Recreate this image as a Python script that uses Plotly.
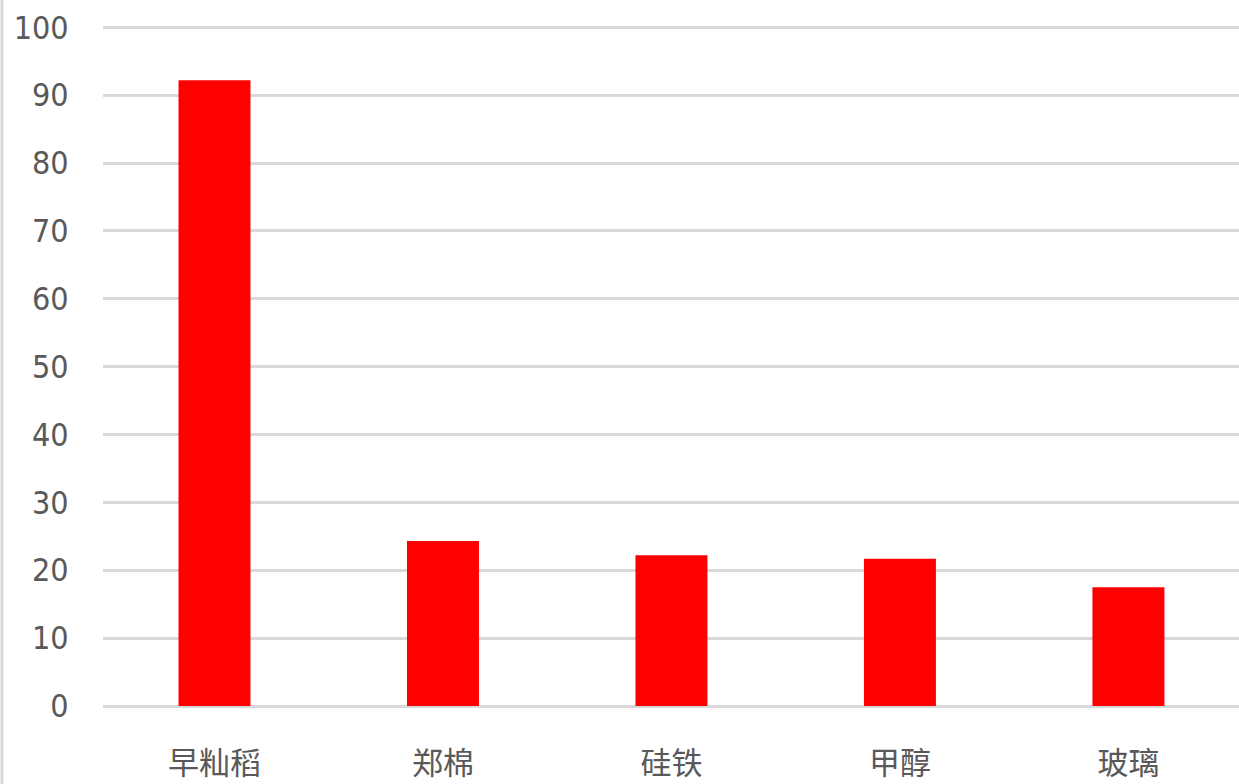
import plotly.graph_objects as go

categories = ["早籼稻", "郑棉", "硅铁", "甲醇", "玻璃"]
values = [92.2, 24.3, 22.2, 21.7, 17.5]
y_ticks = [0, 10, 20, 30, 40, 50, 60, 70, 80, 90, 100]

fig = go.Figure(go.Bar(x=categories, y=values, marker=dict(color="#ff0000", line=dict(width=0))))

fig.update_layout(
    width=1239, height=784,
    margin=dict(l=103, r=0, t=24, b=78, pad=0),
    paper_bgcolor="white", plot_bgcolor="white",
    bargap=0.685,
    showlegend=False,
    xaxis=dict(
        automargin=False,
        range=[-0.488, 4.484],
        showgrid=False, showline=False, zeroline=False,
        tickfont=dict(family="Noto Sans CJK SC", size=31, color="#595959"),
        ticks="outside", ticklen=30, tickcolor="rgba(0,0,0,0)",
    ),
    yaxis=dict(
        automargin=False,
        range=[0, 100.5], tickvals=y_ticks,
        showgrid=True, gridcolor="#d9d9d9", gridwidth=3,
        zeroline=True, zerolinecolor="#d9d9d9", zerolinewidth=3,
        showline=False,
        tickfont=dict(family="DejaVu Sans Condensed, Liberation Sans", size=32, color="#595959"),
        ticks="outside", ticklen=27, tickcolor="rgba(0,0,0,0)",
    ),
    shapes=[dict(type="line", xref="paper", yref="paper",
                 x0=-101/1136, x1=-101/1136, y0=-78/682, y1=1 + 24/682,
                 line=dict(color="#d9d9d9", width=3))],
)

fig.write_html("out.html", config={"displayModeBar": False},
               post_script="document.body.style.margin='0px';document.body.style.overflow='hidden';")
